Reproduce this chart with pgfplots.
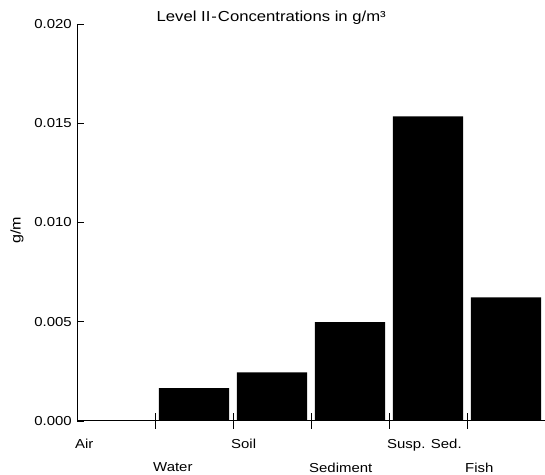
\documentclass[border=0pt]{standalone}
\usepackage{fontspec}
\setmainfont{Liberation Sans}[FakeStretch=1.15]
\usepackage{pgfplots}
\pgfplotsset{compat=1.18}
\begin{document}
\begin{tikzpicture}
\begin{axis}[
  scale only axis,
  width=468pt, height=397pt,
  xmin=0, xmax=6, ymin=0, ymax=0.02,
  axis x line=bottom, axis y line=left,
  axis line style={-, line width=1pt, black},
  xtick={0,1,2,3,4,5},
  xticklabels={Air,{\raisebox{-24pt}[\height][0pt]{Water}},Soil,{\raisebox{-24pt}[\height][0pt]{Sediment}},Susp. Sed.,{\raisebox{-24pt}[\height][0pt]{Fish}}},
  major x tick style={draw=none},
  minor xtick={1,2,3,4,5},
  minor tick length=16pt,
  xtick align=center,
  minor x tick style={line width=0.8pt, black},
  xticklabel style={anchor=north west, inner sep=0pt, xshift=-2pt, yshift=-14pt, font=\fontsize{13}{15}\selectfont},
  ytick={0,0.005,0.01,0.015,0.02},
  ytick align=inside,
  major tick length=7pt,
  y tick style={line width=0.8pt, black},
  yticklabel style={/pgf/number format/fixed, /pgf/number format/fixed zerofill, /pgf/number format/precision=3, anchor=east, inner sep=0pt, xshift=-5pt, font=\fontsize{13}{15}\selectfont},
  /pgf/number format/assume math mode=true,
  scaled y ticks=false,
  ylabel={g/m},
  ylabel style={at={(axis description cs:-0.128,0.481)}, anchor=center, inner sep=0pt, font=\fontsize{14}{16}\selectfont},
  title={Level II\kern1pt-\kern1pt Concentrations in g/m³},
  title style={at={(axis description cs:0.415,1)}, anchor=base, inner sep=0pt, yshift=-4pt, font=\fontsize{14.5}{16}\selectfont},
  clip=false,
]
\addplot[ybar, bar width=0.9, fill=black, draw=none] coordinates {
  (0.5,0) (1.5,0.00166) (2.5,0.00245) (3.5,0.00498) (4.5,0.01534) (5.5,0.00623)
};
\coordinate (o) at (rel axis cs:0,0);
\coordinate (t) at (rel axis cs:1,1);
\end{axis}
\pgfresetboundingbox
\path ([xshift=-77pt,yshift=-54pt]o) rectangle ([yshift=24pt]t);
\end{tikzpicture}
\end{document}
